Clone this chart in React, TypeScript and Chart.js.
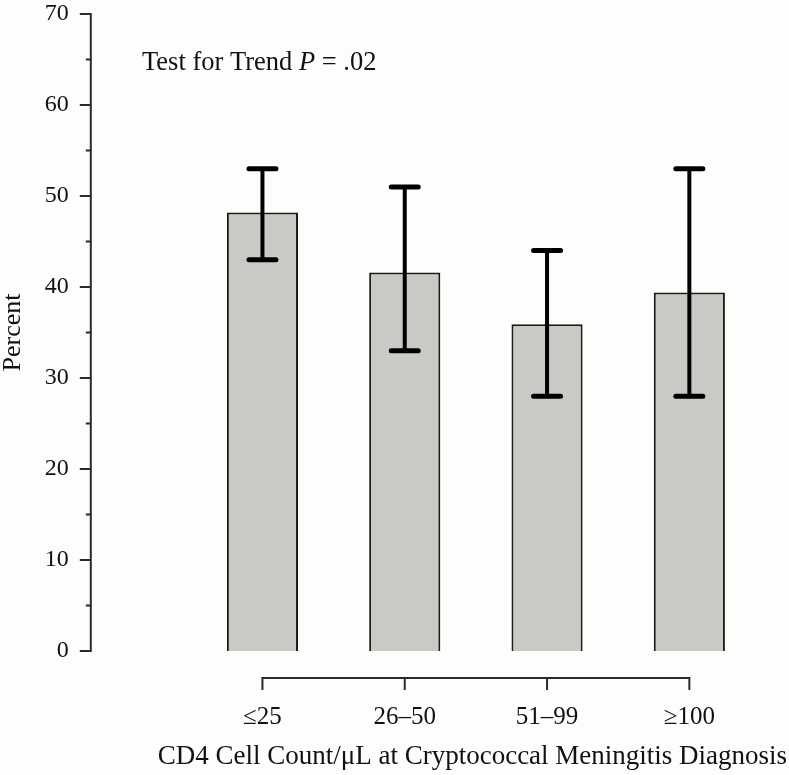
import React, { useEffect, useRef } from "react";
import { Chart, registerables } from "chart.js";

Chart.register(...registerables);

const categories = ["≤25", "26–50", "51–99", "≥100"];
const percentValues = [48.2, 41.6, 35.9, 39.4];
const ciLower = [43, 33, 28, 28];
const ciUpper = [53, 51, 44, 53];
const yMajorTicks = [0, 10, 20, 30, 40, 50, 60, 70];
const yMinorTicks = [5, 15, 25, 35, 45, 55, 65];
const trendPrefix = "Test for Trend ";
const trendItalic = "P";
const trendSuffix = " = .02";
const xTitle = "CD4 Cell Count/μL at Cryptococcal Meningitis Diagnosis";
const yTitle = "Percent";

const FONT = '"Liberation Serif", "Times New Roman", serif';
const INK = "#111111";

const customPlugin = {
  id: "customAxesAndErrors",
  afterDatasetsDraw(chart: any) {
    const ctx = chart.ctx as CanvasRenderingContext2D;
    const xs = chart.scales.x;
    const ys = chart.scales.y;
    const area = chart.chartArea;
    ctx.save();

    // error bars
    const meta = chart.getDatasetMeta(0);
    ctx.strokeStyle = "#000000";
    meta.data.forEach((bar: any, i: number) => {
      const cx = bar.x;
      const yl = ys.getPixelForValue(ciLower[i]);
      const yu = ys.getPixelForValue(ciUpper[i]);
      ctx.lineCap = "butt";
      ctx.lineWidth = 4;
      ctx.beginPath();
      ctx.moveTo(cx, yu);
      ctx.lineTo(cx, yl);
      ctx.stroke();
      ctx.lineCap = "round";
      ctx.lineWidth = 5;
      ctx.beginPath();
      ctx.moveTo(cx - 13.5, yu);
      ctx.lineTo(cx + 13.5, yu);
      ctx.moveTo(cx - 13.5, yl);
      ctx.lineTo(cx + 13.5, yl);
      ctx.stroke();
    });

    // y axis (detached to the left)
    const axX = area.left - 100.5;
    ctx.lineCap = "butt";
    ctx.strokeStyle = "#2a2a2a";
    ctx.lineWidth = 2;
    ctx.beginPath();
    ctx.moveTo(axX, ys.getPixelForValue(70) - 1);
    ctx.lineTo(axX, ys.getPixelForValue(0) + 1);
    ctx.stroke();
    ctx.beginPath();
    yMajorTicks.forEach((v) => {
      const py = ys.getPixelForValue(v);
      ctx.moveTo(axX - 11, py);
      ctx.lineTo(axX, py);
    });
    yMinorTicks.forEach((v) => {
      const py = ys.getPixelForValue(v);
      ctx.moveTo(axX - 5, py);
      ctx.lineTo(axX, py);
    });
    ctx.stroke();

    // x axis bracket
    const axY = area.bottom + 27;
    const x0 = xs.getPixelForValue(0);
    const x1 = xs.getPixelForValue(categories.length - 1);
    ctx.beginPath();
    ctx.moveTo(x0, axY);
    ctx.lineTo(x1, axY);
    categories.forEach((_, i) => {
      const px = xs.getPixelForValue(i);
      ctx.moveTo(px, axY - 1);
      ctx.lineTo(px, axY + 12);
    });
    ctx.stroke();

    // x axis title (drawn without width compression)
    ctx.fillStyle = INK;
    ctx.font = `27px ${FONT}`;
    ctx.textAlign = "center";
    ctx.textBaseline = "middle";
    ctx.fillText(xTitle, (x0 + x1) / 2 - 3.5, area.bottom + 106);

    // annotation text
    ctx.textBaseline = "alphabetic";
    ctx.textAlign = "left";
    let tx = 142;
    const ty = 70;
    ctx.font = `26.5px ${FONT}`;
    ctx.fillText(trendPrefix, tx, ty);
    tx += ctx.measureText(trendPrefix).width;
    ctx.font = `italic 26.5px ${FONT}`;
    ctx.fillText(trendItalic, tx, ty);
    tx += ctx.measureText(trendItalic).width;
    ctx.font = `26.5px ${FONT}`;
    ctx.fillText(trendSuffix, tx, ty);

    ctx.restore();
  },
};

export default function App() {
  const canvasRef = useRef<HTMLCanvasElement | null>(null);

  useEffect(() => {
    if (!canvasRef.current) return;
    const chart = new Chart(canvasRef.current, {
      type: "bar",
      data: {
        labels: categories,
        datasets: [
          {
            data: percentValues,
            backgroundColor: "#c9cac5",
            borderColor: "#1a1a1a",
            borderWidth: 2,
            barPercentage: 0.5,
            categoryPercentage: 1,
          },
        ],
      },
      options: {
        responsive: false,
        animation: false,
        devicePixelRatio: 1,
        layout: { padding: { top: 14, right: 28.5, left: 0, bottom: 0 } },
        plugins: {
          legend: { display: false },
          tooltip: { enabled: false },
        },
        scales: {
          x: {
            type: "category",
            offset: true,
            grid: { display: false },
            border: { display: false },
            ticks: {
              color: INK,
              font: { family: FONT, size: 25 },
              padding: 43,
              maxRotation: 0,
              autoSkip: false,
            },
            title: { display: false, text: xTitle },
            afterFit(scale: any) {
              scale.height = 124;
              scale.paddingLeft = 0;
              scale.paddingRight = 0;
            },
          },
          y: {
            type: "linear",
            min: 0,
            max: 70,
            grid: { display: false },
            border: { display: false },
            ticks: {
              stepSize: 10,
              color: INK,
              font: { family: FONT, size: 24 },
              padding: 114.5,
            },
            title: {
              display: true,
              text: yTitle,
              color: INK,
              font: { family: FONT, size: 26, lineHeight: 1.04 },
              padding: { top: 0, bottom: 0 },
            },
            afterFit(scale: any) {
              scale.width = 191.3;
              scale.paddingTop = 0;
              scale.paddingBottom = 0;
            },
          },
        },
      },
      plugins: [customPlugin],
    });
    return () => chart.destroy();
  }, []);

  return (
    <div
      style={{
        position: "fixed",
        left: 0,
        top: 0,
        width: 789,
        height: 775,
        background: "#fdfdfb",
      }}
    >
      <canvas ref={canvasRef} width={789} height={775} />
    </div>
  );
}
